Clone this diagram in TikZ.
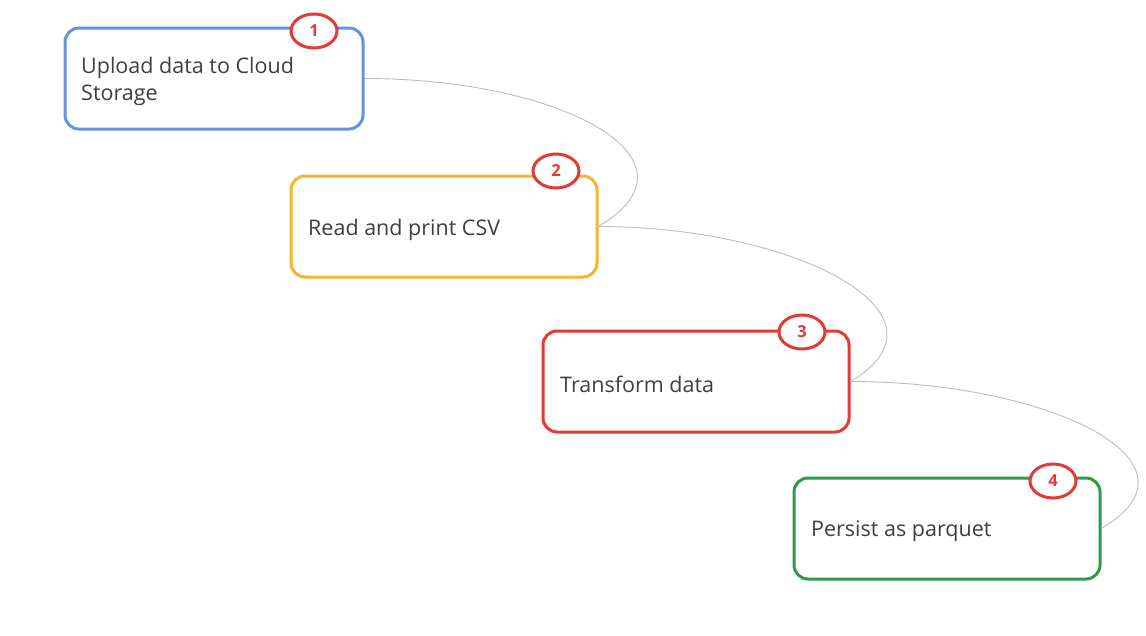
\documentclass[tikz,border=0pt]{standalone}
\usepackage{fontspec}
\setmainfont{Open Sans}
\usetikzlibrary{shapes.geometric}
\definecolor{gblue}{HTML}{6394E0}
\definecolor{gyellow}{HTML}{F9B42D}
\definecolor{gred}{HTML}{E53935}
\definecolor{ggreen}{HTML}{2E9A47}
\definecolor{gtext}{HTML}{3C4043}
\definecolor{gline}{HTML}{BDBDBD}
\tikzset{
  stepbox/.style={draw, line width=3pt, rounded corners=14pt, fill=white,
    minimum width=#1, minimum height=101pt, inner sep=0pt},
  lbl/.style={anchor=west, text=gtext, font=\fontsize{21.5}{27}\selectfont, align=left, inner sep=0pt},
  badge/.style={ellipse, draw=gred, line width=3pt, fill=white, minimum width=46pt,
    minimum height=34pt, inner sep=0pt, text=gred, font=\fontsize{16.5}{16.5}\selectfont\bfseries},
  conn/.style={draw=gline, line width=0.9pt}
}
\begin{document}
\begin{tikzpicture}[x=1pt,y=-1pt]
\useasboundingbox (0,0) rectangle (1146,635);
% boxes
\node[stepbox=298pt, draw=gblue]   (b1) at (214,78.5) {};
\node[stepbox=306pt, draw=gyellow] (b2) at (444,226.5) {};
\node[stepbox=306pt, draw=gred]    (b3) at (696,381.5) {};
\node[stepbox=306pt, draw=ggreen]  (b4) at (947,528.5) {};
% labels
\node[lbl] (t1) at (81,81.5) {Upload data to Cloud\\Storage};
\node[lbl] (t2) at (308,229.5) {Read and print CSV};
\node[lbl] (t3) at (560,384) {Transform data};
\node[lbl] (t4) at (811,531.5) {Persist as parquet};
% connectors
\draw[conn] (b1.east) .. controls +(197,0) and +(113,-67) .. (b2.east);
\draw[conn] (b2.east) .. controls +(197,0) and +(113,-67) .. (b3.east);
\draw[conn] (b3.east) .. controls +(197,0) and +(113,-67) .. (b4.east);
% badges
\node[badge] (n1) at (314,31) {1};
\node[badge] (n2) at (556,171) {2};
\node[badge] (n3) at (802,332) {3};
\node[badge] (n4) at (1053,481) {4};
\end{tikzpicture}
\end{document}
